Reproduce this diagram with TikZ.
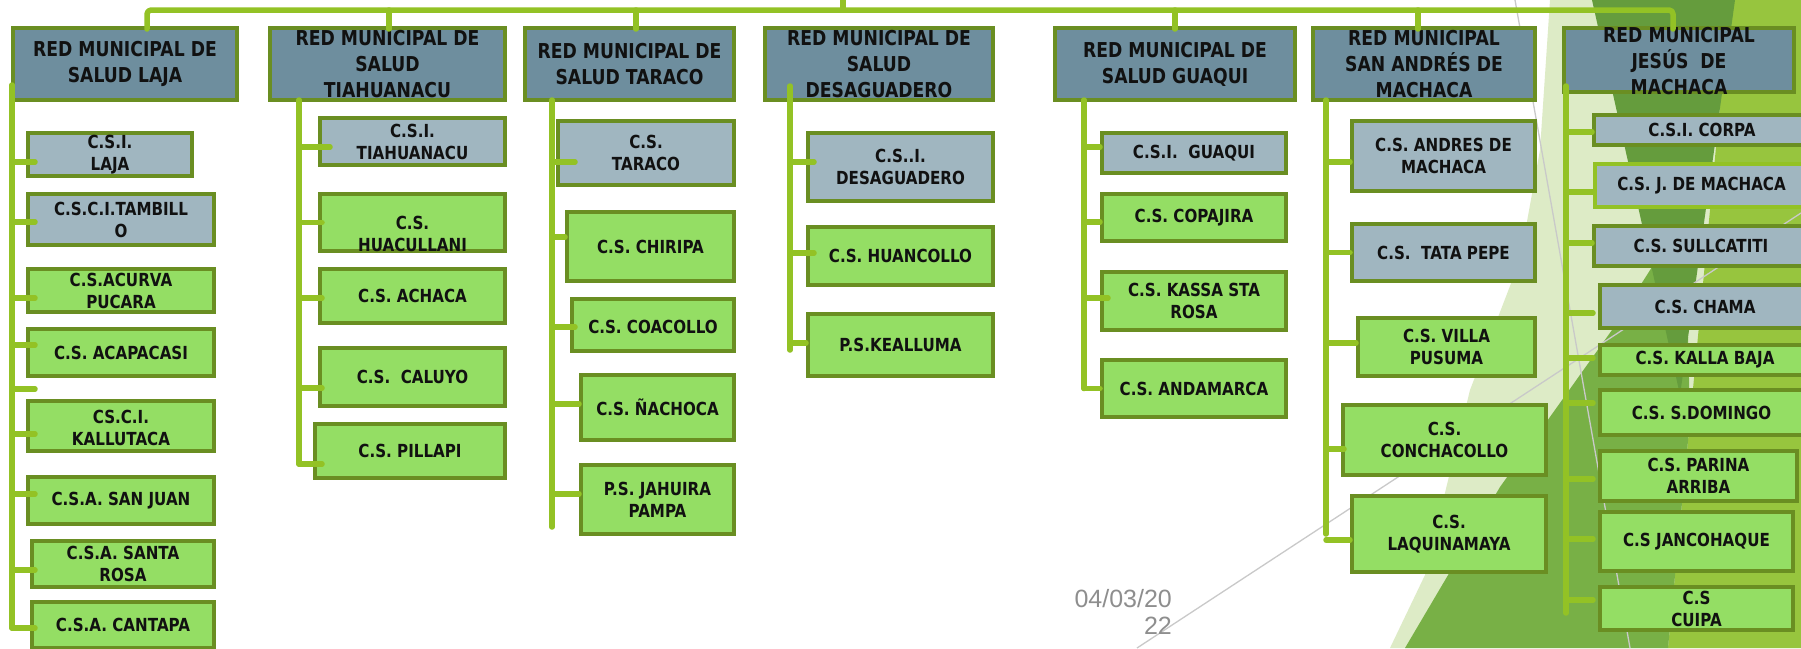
\documentclass[tikz,border=0pt]{standalone}
\usepackage{fontspec}
\newfontfamily\boxfont[FakeStretch=0.84]{DejaVu Sans}
\newfontfamily\datefont{Liberation Sans}
\definecolor{hdrfill}{HTML}{6E8E9E}
\definecolor{gryfill}{HTML}{A0B6C0}
\definecolor{grnfill}{HTML}{94DE64}
\definecolor{bord}{HTML}{6A8E22}
\definecolor{connc}{HTML}{93C225}
\definecolor{txtc}{HTML}{111111}
\definecolor{datec}{HTML}{8E8E8E}
\definecolor{lightg}{HTML}{DDEBC6}
\definecolor{brightg}{HTML}{97C53E}
\definecolor{medg}{HTML}{78B046}
\definecolor{darkg}{HTML}{659C3D}
\definecolor{hairc}{HTML}{C9C9C9}
\tikzset{
  box/.style={draw=bord, line width=4pt, inner sep=0pt, rectangle},
  hdr/.style={box, fill=hdrfill},
  gry/.style={box, fill=gryfill},
  gryb/.style={box, fill=gryfill, draw=connc, line width=3.5pt},
  grn/.style={box, fill=grnfill},
  hdr txt/.style={align=center, inner sep=0pt, text=txtc, font={\boxfont\bfseries\fontsize{20.5}{26}\selectfont}},
  gry txt/.style={align=center, inner sep=0pt, text=txtc, font={\boxfont\bfseries\fontsize{18}{22}\selectfont}},
  gryb txt/.style={gry txt},
  grn txt/.style={gry txt},
  conn/.style={draw=connc, line width=5.5pt, line cap=round, line join=round},
  hairline/.style={draw=hairc, line width=1.3pt},
}
\newcommand\bx[8][0]{%
  \node[#3, minimum width={(#6-#4-4)*1pt}, minimum height={(#7-#5-4)*1pt}] (#2) at ({(#4+#6)/2},{(#5+#7)/2}) {};
  \node[#3 txt] (#2t) at ([yshift=-#1pt]#2.center) {#8};}
\newcommand\tk[4]{\draw[conn] ([yshift=#3]#2.west -| #1) -- ([xshift=#4,yshift=#3]#2.west);}
\begin{document}
\begin{tikzpicture}[x=1pt,y=-1pt]
\useasboundingbox (0,0) rectangle (1801,648);
\fill[white] (0,0) rectangle (1801,648);
% background decoration
\fill[lightg] (1550,0) -- (1801,0) -- (1801,648) -- (1390,648) -- (1425,575) -- (1470,390) -- (1520,260) -- (1540,150) -- cycle;
\fill[brightg] (1730,0) -- (1801,0) -- (1801,648) -- (1668,648) -- (1690,420) -- cycle;
\fill[medg] (1405,648) -- (1500,487) -- (1612,330) -- (1685,215) -- (1690,420) -- (1668,648) -- cycle;
\fill[darkg] (1592,0) -- (1735,0) -- (1680,395) -- cycle;
\draw[hairline] (1515,0) -- (1630,648);
\draw[hairline] (1137,648) -- (1801,213);
% headers
\bx{h1}{hdr}{11}{26}{239}{102}{RED MUNICIPAL DE\\SALUD LAJA}
\bx{h2}{hdr}{268}{26}{507}{102}{RED MUNICIPAL DE\\SALUD\\TIAHUANACU}
\bx{h3}{hdr}{523}{26}{736}{102}{RED MUNICIPAL DE\\SALUD TARACO}
\bx{h4}{hdr}{763}{26}{995}{102}{RED MUNICIPAL DE\\SALUD\\DESAGUADERO}
\bx{h5}{hdr}{1053}{26}{1297}{102}{RED MUNICIPAL DE\\SALUD GUAQUI}
\bx{h6}{hdr}{1311}{26}{1537}{102}{RED MUNICIPAL\\SAN ANDRÉS DE\\MACHACA}
\bx[1]{h7}{hdr}{1562}{26}{1796}{94}{RED MUNICIPAL\\JESÚS~~DE\\MACHACA}
% column 1
\bx{c1a}{gry}{26}{131}{194}{178}{C.S.I.\\LAJA}
\bx{c1b}{gry}{26}{192}{216}{247}{C.S.C.I.TAMBILL\\O}
\bx{c1c}{grn}{26}{267}{216}{314}{C.S.ACURVA\\PUCARA}
\bx{c1d}{grn}{26}{327}{216}{378}{C.S. ACAPACASI}
\bx[2]{c1e}{grn}{26}{399}{216}{453}{CS.C.I.\\KALLUTACA}
\bx{c1f}{grn}{26}{475}{216}{526}{C.S.A. SAN JUAN}
\bx{c1g}{grn}{30}{539}{216}{589}{C.S.A. SANTA\\ROSA}
\bx{c1h}{grn}{30}{600}{216}{650}{C.S.A. CANTAPA}
% column 2
\bx{c2a}{gry}{318}{116}{507}{167}{C.S.I.\\TIAHUANACU}
\bx[11.5]{c2b}{grn}{318}{192}{507}{253}{C.S.\\HUACULLANI}
\bx{c2c}{grn}{318}{267}{507}{325}{C.S. ACHACA}
\bx{c2d}{grn}{318}{346}{507}{408}{C.S.~~CALUYO}
\bx{c2e}{grn}{313}{422}{507}{480}{C.S. PILLAPI}
% column 3
\bx{c3a}{gry}{556}{119}{736}{187}{C.S.\\TARACO}
\bx{c3b}{grn}{565}{210}{736}{283}{C.S. CHIRIPA}
\bx[2]{c3c}{grn}{570}{297}{736}{353}{C.S. COACOLLO}
\bx{c3d}{grn}{579}{373}{736}{442}{C.S. ÑACHOCA}
\bx{c3e}{grn}{579}{463}{736}{536}{P.S. JAHUIRA\\PAMPA}
% column 4
\bx{c4a}{gry}{806}{131}{995}{203}{C.S..I.\\DESAGUADERO}
\bx{c4b}{grn}{806}{225}{995}{287}{C.S. HUANCOLLO}
\bx{c4c}{grn}{806}{312}{995}{378}{P.S.KEALLUMA}
% column 5
\bx{c5a}{gry}{1100}{131}{1288}{175}{C.S.I.~~GUAQUI}
\bx{c5b}{grn}{1100}{192}{1288}{243}{C.S. COPAJIRA}
\bx{c5c}{grn}{1100}{270}{1288}{332}{C.S. KASSA STA\\ROSA}
\bx{c5d}{grn}{1100}{358}{1288}{419}{C.S. ANDAMARCA}
% column 6
\bx{c6a}{gry}{1350}{119}{1537}{193}{C.S. ANDRES DE\\MACHACA}
\bx{c6b}{gry}{1350}{222}{1537}{283}{C.S.~~TATA PEPE}
\bx{c6c}{grn}{1356}{316}{1537}{378}{C.S. VILLA\\PUSUMA}
\bx{c6d}{grn}{1341}{403}{1548}{477}{C.S.\\CONCHACOLLO}
\bx{c6e}{grn}{1350}{494}{1548}{574}{C.S.\\LAQUINAMAYA}
% column 7
\bx{c7a}{gry}{1592}{113}{1812}{147}{C.S.I. CORPA}
\bx{c7b}{gryb}{1593}{162}{1810}{209}{C.S. J. DE MACHACA}
\bx{c7c}{gry}{1592}{224}{1810}{268}{C.S. SULLCATITI}
\bx{c7d}{gry}{1598}{283}{1812}{330}{C.S. CHAMA}
\bx{c7e}{grn}{1598}{343}{1812}{377}{C.S. KALLA BAJA}
\bx{c7f}{grn}{1598}{388}{1805}{437}{C.S. S.DOMINGO}
\bx{c7g}{grn}{1598}{449}{1799}{503}{C.S. PARINA\\ARRIBA}
\bx{c7h}{grn}{1598}{510}{1795}{573}{C.S JANCOHAQUE}
\bx{c7i}{grn}{1598}{585}{1795}{632}{C.S\\CUIPA}
% connectors
\coordinate (bus) at (0,10);
\coordinate (stub) at (843,-5);
\draw[conn, rounded corners=4pt] ([xshift=22pt,yshift=-3pt]h1.north) -- ([xshift=22pt]h1.north |- bus) -- ([xshift=-6pt]h7.north |- bus) -- ([xshift=-6pt,yshift=-3pt]h7.north);
\draw[conn] ([xshift=1.5pt]h2.north |- bus) -- ([xshift=1.5pt,yshift=-3pt]h2.north);
\draw[conn] ([xshift=6.5pt]h3.north |- bus) -- ([xshift=6.5pt,yshift=-3pt]h3.north);
\draw[conn] (h5.north |- bus) -- ([yshift=-3pt]h5.north);
\draw[conn] ([xshift=-6pt]h6.north |- bus) -- ([xshift=-6pt,yshift=-3pt]h6.north);
\draw[conn] (stub) -- (stub |- bus);
% spines
\coordinate (sp1) at (12,85);
\coordinate (sp2) at (299,100);
\coordinate (sp3) at (552,100);
\coordinate (sp3b) at (552,527);
\coordinate (sp4) at (790,86);
\coordinate (sp5) at (1084,100);
\coordinate (sp6) at (1326,100);
\coordinate (sp7) at (1566,86);
\coordinate (orph) at (35,389);
\draw[conn] (sp1) -- ([yshift=-3pt]c1h.west -| sp1);
\draw[conn] (sp2) -- ([yshift=-13pt]c2e.west -| sp2);
\draw[conn] (sp3) -- (sp3b);
\draw[conn] (sp4) -- ([yshift=-5pt]c4c.west -| sp4);
\draw[conn] (sp5) -- (c5d.west -| sp5);
\draw[conn] (sp6) -- (c6e.west -| sp6);
\draw[conn] (sp7) -- ([yshift=-4.5pt]c7i.west -| sp7);
% ticks
\tk{sp1}{c1a}{-7.5pt}{9pt}
\tk{sp1}{c1b}{-2.5pt}{9pt}
\tk{sp1}{c1c}{-7.5pt}{9pt}
\tk{sp1}{c1d}{7.5pt}{9pt}
\draw[conn] (orph -| sp1) -- (orph);
\tk{sp1}{c1e}{-8pt}{9pt}
\tk{sp1}{c1f}{6.5pt}{9pt}
\tk{sp1}{c1g}{-6pt}{5pt}
\tk{sp1}{c1h}{-3pt}{5pt}
\tk{sp2}{c2a}{-5.5pt}{12pt}
\tk{sp2}{c2b}{0pt}{4pt}
\tk{sp2}{c2c}{-2pt}{4pt}
\tk{sp2}{c2d}{-11pt}{4pt}
\tk{sp2}{c2e}{-13pt}{9pt}
\tk{sp3}{c3a}{-9pt}{19pt}
\tk{sp3}{c3b}{9.5pt}{0pt}
\tk{sp3}{c3c}{-2pt}{5pt}
\tk{sp3}{c3d}{3.5pt}{0pt}
\tk{sp3}{c3e}{5.5pt}{0pt}
\tk{sp4}{c4a}{5pt}{8pt}
\tk{sp4}{c4b}{3pt}{8pt}
\tk{sp4}{c4c}{2pt}{0pt}
\tk{sp5}{c5a}{6pt}{0pt}
\tk{sp5}{c5b}{-4.5pt}{0pt}
\tk{sp5}{c5c}{3pt}{8pt}
\tk{sp5}{c5d}{0pt}{0pt}
\tk{sp6}{c6a}{-6pt}{0pt}
\tk{sp6}{c6b}{0pt}{0pt}
\tk{sp6}{c6c}{4pt}{0pt}
\tk{sp6}{c6d}{-9pt}{3pt}
\tk{sp6}{c6e}{-6pt}{0pt}
\tk{sp7}{c7a}{-2pt}{0pt}
\tk{sp7}{c7b}{-6.5pt}{0pt}
\tk{sp7}{c7c}{3pt}{0pt}
\tk{sp7}{c7d}{-6.5pt}{-5pt}
\tk{sp7}{c7e}{2pt}{-5pt}
\tk{sp7}{c7f}{9.5pt}{-5pt}
\tk{sp7}{c7g}{-3pt}{-5pt}
\tk{sp7}{c7h}{2.5pt}{-5pt}
\tk{sp7}{c7i}{8.5pt}{-5pt}
% date
\node[font={\datefont\fontsize{25}{27}\selectfont}, text=datec, align=right, anchor=east, inner sep=0pt] (date) at (1172,612) {04/03/20\\22};
\end{tikzpicture}
\end{document}
